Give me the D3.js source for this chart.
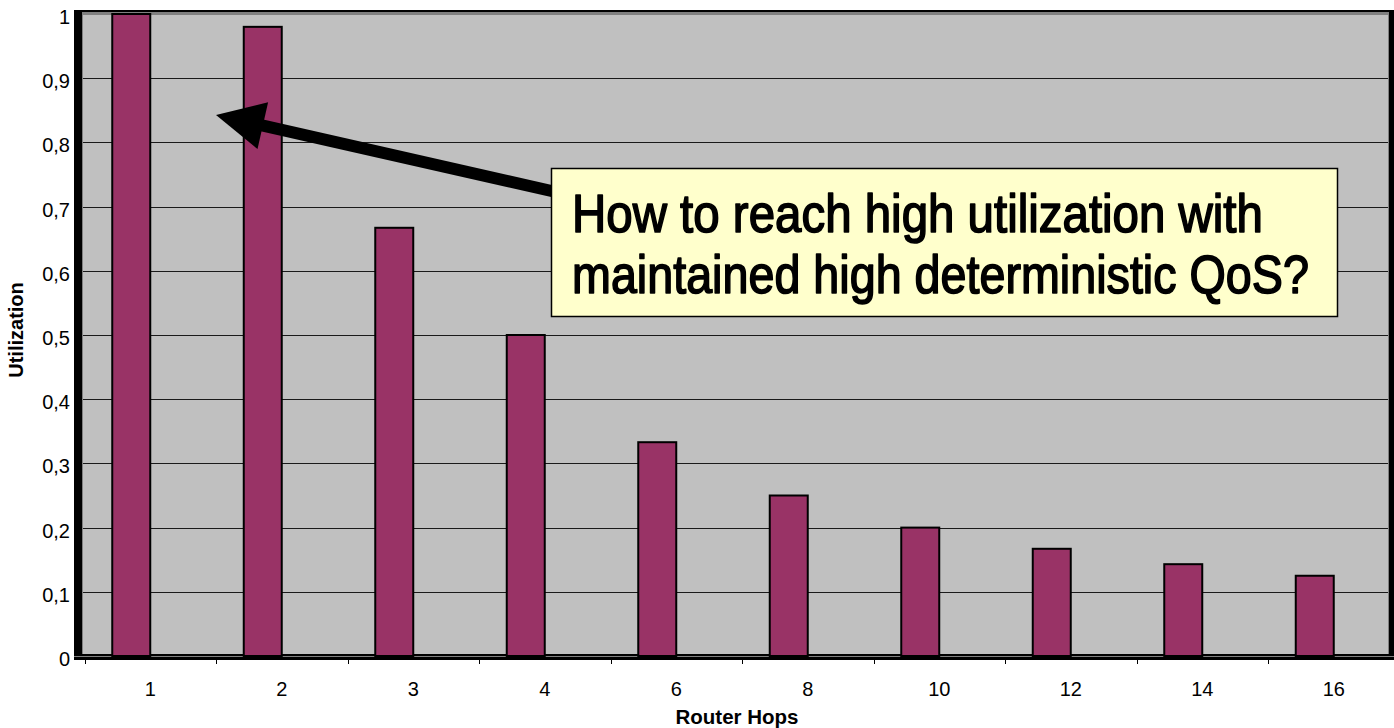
<!DOCTYPE html>
<html>
<head>
<meta charset="utf-8">
<script src="https://cdn.jsdelivr.net/npm/d3@7"></script>
<style>
  html, body { margin: 0; padding: 0; background: #fff; }
  svg { display: block; }
</style>
</head>
<body>
<svg id="chart" width="1394" height="728"></svg>
<script>
const categories = ["1", "2", "3", "4", "6", "8", "10", "12", "14", "16"];
const utilization = [1, 0.98, 0.667, 0.5, 0.333, 0.25, 0.2, 0.167, 0.143, 0.125];
const yTicks = [0, 0.1, 0.2, 0.3, 0.4, 0.5, 0.6, 0.7, 0.8, 0.9, 1];
const xTitle = "Router Hops";
const yTitle = "Utilization";
const noteLines = ["How to reach high utilization with", "maintained high deterministic QoS?"];

const svg = d3.select("#chart");
const plot = { left: 83, right: 1389, top: 14, bottom: 656 };
const axisFont = "Arial, 'Liberation Sans', sans-serif";

const x = d3.scaleBand().domain(categories).range([84.5, 1399.5]);
const y = d3.scaleLinear().domain([0, 1]).range([plot.bottom, plot.top]);

// outer black frame
svg.append("rect").attr("x", 74).attr("y", 10).attr("width", 1394 - 74).attr("height", 660 - 10).attr("fill", "#000");
// plot background
svg.append("rect").attr("x", plot.left - 1).attr("y", 12).attr("width", plot.right - plot.left + 1).attr("height", 654 - 12)
  .attr("fill", "#808080");
svg.append("rect").attr("x", plot.left).attr("y", 15).attr("width", plot.right - plot.left - 1).attr("height", 654 - 15)
  .attr("fill", "#C0C0C0");

// gridlines
svg.append("g").selectAll("line").data(yTicks.filter(d => d > 0 && d < 1)).join("line")
  .attr("x1", plot.left).attr("x2", plot.right - 1)
  .attr("y1", d => Math.round(y(d)) + 0.5).attr("y2", d => Math.round(y(d)) + 0.5)
  .attr("stroke", "#1a1a1a").attr("stroke-width", 1);

// bottom double line detail
svg.append("line").attr("x1", 74).attr("x2", 1394).attr("y1", 656.5).attr("y2", 656.5).attr("stroke", "#808080").attr("stroke-width", 1);

// bars
const barW = 38;
svg.append("g").selectAll("rect").data(utilization).join("rect")
  .attr("x", (d, i) => x(categories[i]) + x.bandwidth() / 2 - barW)
  .attr("y", d => y(d))
  .attr("width", barW)
  .attr("height", d => y(0) - y(d))
  .attr("fill", "#993366")
  .attr("stroke", "#000")
  .attr("stroke-width", 2);

// y axis labels
const yAxis = d3.axisLeft(y).tickValues(yTicks).tickSize(0).tickPadding(0)
  .tickFormat(d => d3.format(".1~f")(d).replace(".", ","));
const yg = svg.append("g").attr("transform", "translate(70,3)").call(yAxis);
yg.select(".domain").remove();
yg.selectAll("text").attr("font-family", axisFont).attr("font-size", 20).attr("fill", "#000");

// x axis ticks and labels
const xAxis = d3.axisBottom(x).tickSize(0).tickPadding(0);
const xg = svg.append("g").attr("transform", "translate(0,682)").call(xAxis);
xg.select(".domain").remove();
xg.selectAll("text").attr("font-family", axisFont).attr("font-size", 20).attr("fill", "#000");

const boundaries = categories.slice(1).map(c => x(c)).concat([x.range()[0]]);
svg.append("g").selectAll("line").data(boundaries).join("line")
  .attr("x1", d => Math.round(d) + 0.5).attr("x2", d => Math.round(d) + 0.5)
  .attr("y1", 660).attr("y2", 664).attr("stroke", "#000").attr("stroke-width", 1);

// axis titles
svg.append("text").attr("x", 737).attr("y", 724).attr("text-anchor", "middle")
  .attr("font-family", axisFont).attr("font-weight", "bold").attr("font-size", 20.5)
  .text(xTitle);
svg.append("text").attr("transform", "translate(23,330) rotate(-90)").attr("text-anchor", "middle")
  .attr("font-family", axisFont).attr("font-weight", "bold").attr("font-size", 20)
  .text(yTitle);

// arrow
const tip = [216, 115], tail = [600, 202];
const dx = tail[0] - tip[0], dy = tail[1] - tip[1];
const L = Math.hypot(dx, dy), ux = dx / L, uy = dy / L, px = -uy, py = ux;
const headLen = 48, headHalf = 24, shaftHalf = 6;
const base = [tip[0] + ux * headLen, tip[1] + uy * headLen];
svg.append("line").attr("x1", base[0] - ux * 2).attr("y1", base[1] - uy * 2).attr("x2", tail[0]).attr("y2", tail[1])
  .attr("stroke", "#000").attr("stroke-width", shaftHalf * 2);
svg.append("path").attr("d", d3.line()([
  tip,
  [base[0] + px * headHalf, base[1] + py * headHalf],
  [base[0] - px * headHalf, base[1] - py * headHalf]
]) + "Z").attr("fill", "#000");

// annotation box
svg.append("rect").attr("x", 551.5).attr("y", 168.5).attr("width", 786).attr("height", 148)
  .attr("fill", "#FFFFCC").attr("stroke", "#000").attr("stroke-width", 1.5);
const note = svg.append("g");
const widths = [691, 737];
noteLines.forEach((t, i) => {
  const g = note.append("g").attr("transform", `translate(572,${232 + i * 61})`);
  const tx = g.append("text").attr("x", 0).attr("y", 0)
    .attr("font-family", "'Liberation Sans', Arial, sans-serif")
    .attr("font-size", 53).attr("fill", "#000")
    .attr("stroke", "#000").attr("stroke-width", 1.6).attr("stroke-linejoin", "round")
    .text(t);
  const w = tx.node().getComputedTextLength();
  g.attr("transform", `translate(572,${232 + i * 61}) scale(${widths[i] / w},1)`);
});
</script>
</body>
</html>
